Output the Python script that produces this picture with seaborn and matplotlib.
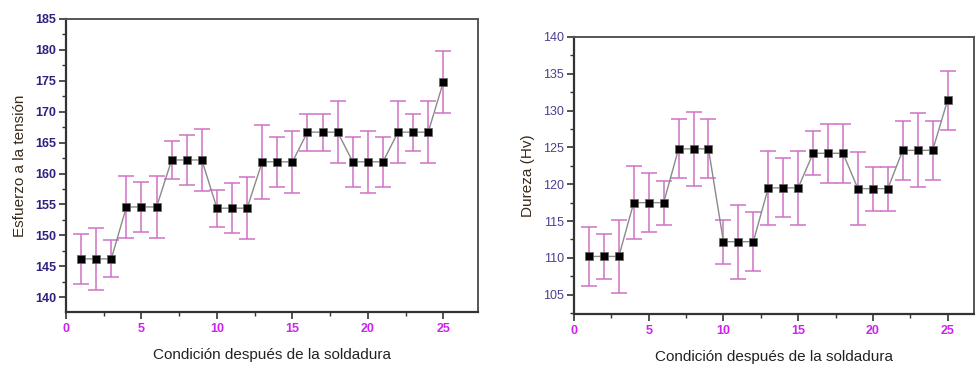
#Esfuerzo a la tensión y dureza por condición después de la soldadura

import numpy as np
import pandas as pd
import matplotlib
matplotlib.use("Agg")
import matplotlib.pyplot as plt
import seaborn as sns
from matplotlib.ticker import MultipleLocator

#datos
condicion = list(range(1, 26))
esfuerzo = [146.2, 146.2, 146.2, 154.6, 154.6, 154.6, 162.2, 162.2, 162.2,
            154.4, 154.4, 154.4, 161.9, 161.9, 161.9, 166.7, 166.7, 166.7,
            161.9, 161.9, 161.9, 166.7, 166.7, 166.7, 174.8]
esfuerzo_err = [4, 5, 3, 5, 4, 5, 3, 4, 5, 3, 4, 5, 6, 4, 5, 3, 3, 5,
                4, 5, 4, 5, 3, 5, 5]
dureza = [110.2, 110.2, 110.2, 117.5, 117.5, 117.5, 124.8, 124.8, 124.8,
          112.2, 112.2, 112.2, 119.5, 119.5, 119.5, 124.2, 124.2, 124.2,
          119.4, 119.4, 119.4, 124.6, 124.6, 124.6, 131.4]
dureza_err = [4, 3, 5, 5, 4, 3, 4, 5, 4, 3, 5, 4, 5, 4, 5, 3, 4, 4,
              5, 3, 3, 4, 5, 4, 4]

df = pd.DataFrame({"cond": condicion, "esfuerzo": esfuerzo, "esf_err": esfuerzo_err,
                   "dureza": dureza, "dur_err": dureza_err})

#configuración
sns.set_theme(style="ticks")
plt.rcParams["font.family"] = ["Liberation Sans", "DejaVu Sans"]

fig = plt.figure(figsize=(9.75, 3.65), dpi=100)
ax1 = fig.add_axes([0.0677, 0.145, 0.4226, 0.803])
ax2 = fig.add_axes([0.5887, 0.14, 0.41, 0.759])

err_color = "#d072c6"


def panel(ax, col, err, ylim, ylabel, ycolor, ybold):
    ax.errorbar(df["cond"], df[col], yerr=df[err], fmt="none", ecolor=err_color,
                elinewidth=1.1, capsize=5.5, capthick=1.1, zorder=2)
    sns.lineplot(data=df, x="cond", y=col, ax=ax, color="#8a8a8a", linewidth=1,
                 marker="s", markersize=5.4, markerfacecolor="black",
                 markeredgecolor="#666666", markeredgewidth=0.5, zorder=3)
    ax.set_xlim(0, 27.3)
    ax.set_ylim(*ylim)
    ax.xaxis.set_major_locator(MultipleLocator(5))
    ax.xaxis.set_minor_locator(MultipleLocator(2.5))
    ax.yaxis.set_major_locator(MultipleLocator(5))
    ax.yaxis.set_minor_locator(MultipleLocator(2.5))
    ax.tick_params(axis="both", which="major", direction="out", length=5, width=1.2,
                   color="#333333")
    ax.tick_params(axis="both", which="minor", direction="out", length=3, width=1,
                   color="#333333")
    ax.tick_params(axis="x", labelsize=9, labelcolor="#cc22ee", pad=3)
    ax.tick_params(axis="y", labelsize=9, labelcolor=ycolor, pad=2)
    for lab in ax.get_xticklabels():
        lab.set_fontweight("bold")
    if ybold:
        for lab in ax.get_yticklabels():
            lab.set_fontweight("bold")
    for side in ["left", "bottom"]:
        ax.spines[side].set_linewidth(1.6)
        ax.spines[side].set_color("#333333")
    for side in ["top", "right"]:
        ax.spines[side].set_linewidth(1.4)
        ax.spines[side].set_color("#555555")
    ax.set_xlabel("Condición después de la soldadura", fontsize=11, color="#222222",
                  labelpad=9)
    ax.set_ylabel(ylabel, fontsize=11, color="#3a2a1a", labelpad=6)


panel(ax1, "esfuerzo", "esf_err", (137.6, 185), "Esfuerzo a la tensión", "#2b2280", True)
panel(ax2, "dureza", "dur_err", (102.4, 140), "Dureza (Hv)", "#4b3f8f", False)
ax2.set_xlim(0, 26.75)

fig.savefig("out.png", dpi=100)
